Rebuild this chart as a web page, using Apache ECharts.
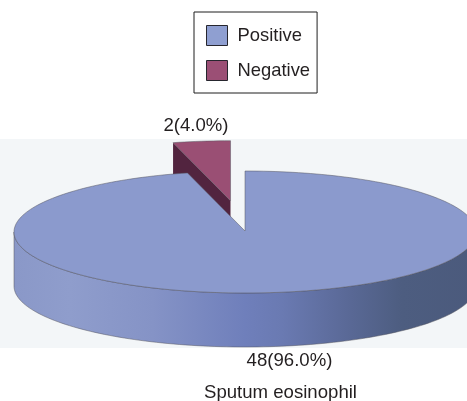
<!DOCTYPE html>
<html>
<head>
<meta charset="utf-8">
<style>html,body{margin:0;padding:0;background:#fff}#chart{width:467px;height:401px}</style>
<script src="https://cdn.jsdelivr.net/npm/echarts@6/dist/echarts.min.js"></script>
</head>
<body>
<div id="chart"></div>
<script>
// Sputum eosinophil counts
const categories = ['Positive', 'Negative'];
const counts = [48, 2];
const axisTitle = 'Sputum eosinophil';

// Colours per category
const topColors = ['#8b9acd', '#9a4f74'];
const cutColors = ['#6d7cb6', '#52243f'];
const legendColors = ['#8f9fd1', '#9b4f75'];
const wallStops = [
  [0, '#8a98c8'], [0.12, '#8f9dcc'], [0.3, '#8593c6'], [0.5, '#6f7fbb'],
  [0.58, '#6a7ab2'], [0.72, '#5a6997'], [0.84, '#4d5d80'], [1, '#4b5a7c']
];

// Tilted-disc projection
const disc = { cx: 245, cy: 232, apexY: 231, rx: 231, ry: 61, depth: 54, explode: [0, 0.5] };
const labelAnchors = [[289.5, 360.5], [196, 125.5]];

const total = counts.reduce((a, b) => a + b, 0);

function sliceAngles(index) {
  const before = counts.slice(0, index).reduce((a, b) => a + b, 0);
  return [before / total * 360, (before + counts[index]) / total * 360];
}

// Clockwise from twelve o'clock, flattened on the ellipse.
function rim(deg, ox, oy, drop) {
  const r = deg * Math.PI / 180;
  return [disc.cx + ox + disc.rx * Math.sin(r), disc.cy + oy + drop - disc.ry * Math.cos(r)];
}

function arcPoints(from, to, ox, oy, drop) {
  const pts = [];
  const steps = Math.max(2, Math.ceil(Math.abs(to - from) / 1.5));
  for (let i = 0; i <= steps; i++) pts.push(rim(from + (to - from) * i / steps, ox, oy, drop));
  return pts;
}

function renderSlice(params, api) {
  const i = params.seriesIndex;
  const value = api.value(0);
  const [a0, a1] = sliceAngles(i);
  const mid = (a0 + a1) / 2 * Math.PI / 180;
  const k = disc.explode[i];
  const ox = disc.rx * Math.sin(mid) * k;
  const oy = -disc.ry * Math.cos(mid) * k;
  const apex = [disc.cx + ox, disc.apexY + oy];
  const edge = { stroke: '#55555f', lineWidth: 0.5 };
  const children = [];

  // Outer wall, only the part of the rim that faces the viewer
  const w0 = Math.max(a0, 90), w1 = Math.min(a1, 270);
  if (w1 > w0) {
    const upper = arcPoints(w0, w1, ox, oy, 0);
    const lower = arcPoints(w1, w0, ox, oy, disc.depth);
    children.push({
      type: 'polygon',
      shape: { points: upper.concat(lower) },
      style: Object.assign({
        fill: new echarts.graphic.LinearGradient(disc.cx - disc.rx, 0, disc.cx + disc.rx, 0,
          wallStops.map(s => ({ offset: s[0], color: s[1] })), true)
      }, edge)
    });
  }

  // Cut face left of the opening on the detached slice
  if (k > 0) {
    const outer = rim(a0, ox, oy, 0);
    children.push({
      type: 'polygon',
      shape: { points: [outer, apex, [apex[0], apex[1] + disc.depth], [outer[0], outer[1] + disc.depth]] },
      style: { fill: cutColors[i], stroke: 'none' }
    });
  }

  // Top face
  children.push({
    type: 'polygon',
    shape: { points: [apex].concat(arcPoints(a0, a1, ox, oy, 0)) },
    style: Object.assign({ fill: topColors[i] }, edge)
  });

  // Value label
  children.push({
    type: 'text',
    x: labelAnchors[i][0],
    y: labelAnchors[i][1],
    style: {
      text: value + '(' + (value / total * 100).toFixed(1) + '%)',
      fill: '#231f20',
      font: '18.6px "Liberation Sans", Arial, sans-serif',
      align: 'center',
      verticalAlign: 'middle'
    }
  });
  return { type: 'group', children };
}

const chart = echarts.init(document.getElementById('chart'), null, { renderer: 'canvas' });
chart.setOption({
  animation: false,
  backgroundColor: '#ffffff',
  title: {
    text: axisTitle,
    left: 280.5,
    top: 383,
    padding: 0,
    textAlign: 'center',
    textStyle: { color: '#231f20', fontWeight: 'normal', fontSize: 18.6, fontFamily: '"Liberation Sans", Arial, sans-serif' }
  },
  legend: {
    orient: 'vertical',
    left: 194,
    top: 12,
    padding: [13, 7, 12, 12],
    itemWidth: 21,
    itemHeight: 20,
    itemGap: 14,
    icon: 'rect',
    selectedMode: false,
    borderColor: '#1f1f1f',
    borderWidth: 1,
    backgroundColor: '#ffffff',
    textStyle: { color: '#231f20', fontSize: 18.4, fontFamily: '"Liberation Sans", Arial, sans-serif', padding: [0, 0, 1, 5] },
    data: categories.map((name, i) => ({
      name,
      itemStyle: { color: legendColors[i], borderColor: '#26262e', borderWidth: 1 }
    }))
  },
  graphic: [{
    type: 'rect',
    z: -10,
    silent: true,
    shape: { x: 0, y: 139, width: 467, height: 209 },
    style: { fill: '#f3f6f8' }
  }],
  series: categories.map((name, i) => ({
    type: 'custom',
    name,
    coordinateSystem: 'none',
    silent: true,
    z: i === 0 ? 3 : 2,
    itemStyle: { color: legendColors[i] },
    renderItem: renderSlice,
    data: [[counts[i]]]
  }))
});
</script>
</body>
</html>
